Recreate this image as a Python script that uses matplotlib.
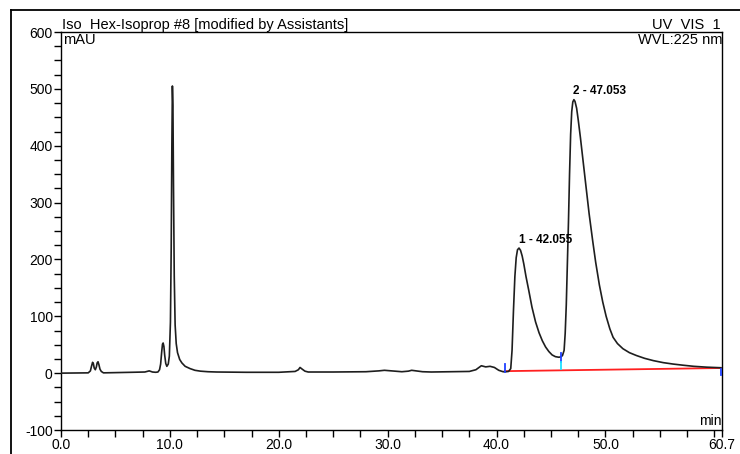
import numpy as np
import matplotlib.pyplot as plt
from matplotlib.lines import Line2D
from matplotlib.ticker import MultipleLocator, FixedLocator

plt.rcParams['font.family'] = ['Liberation Sans', 'DejaVu Sans']
plt.rcParams['axes.unicode_minus'] = False

# chromatogram trace (retention time in min, absorbance in mAU)
time_min = [0.0, 2.5, 2.7, 2.8, 2.9, 2.97, 3.05, 3.15, 3.25, 3.32, 3.4, 3.48,
            3.58, 3.7, 3.9, 5.0, 6.5, 7.7, 8.1, 8.4, 8.7, 8.9, 9.05, 9.15,
            9.25, 9.32, 9.38, 9.45, 9.52, 9.62, 9.72, 9.85, 9.95, 10.05, 10.12,
            10.18, 10.23, 10.28, 10.33, 10.4, 10.48, 10.58, 10.7, 10.9, 11.1,
            11.4, 11.85, 12.3, 12.8, 13.5, 14.3, 17.0, 20.0, 21.5, 21.8, 21.95,
            22.15, 22.4, 22.7, 25.0, 28.0, 29.2, 29.7, 30.3, 31.3, 31.9, 32.2,
            32.6, 33.2, 34.0, 36.0, 37.5, 38.1, 38.6, 39.0, 39.4, 39.8, 40.2,
            40.6, 40.85, 41.1, 41.3, 41.42, 41.55, 41.68, 41.8, 41.92, 42.06,
            42.2, 42.35, 42.5, 42.7, 42.96, 43.25, 43.58, 43.9, 44.2, 44.5,
            44.8, 45.1, 45.4, 45.7, 45.9, 46.05, 46.2, 46.3, 46.4, 46.5, 46.6,
            46.7, 46.8, 46.9, 47.0, 47.1, 47.2, 47.35, 47.5, 47.7, 47.9, 48.2,
            48.5, 48.83, 49.1, 49.44, 49.75, 50.06, 50.4, 50.7, 51.1, 51.6,
            52.2, 52.84, 53.6, 54.4, 55.3, 56.2, 57.1, 58.1, 59.3, 60.6]
signal_mau = [0.0, 0.5, 4, 12, 19, 17, 9, 6, 11, 18, 20, 15,
              7, 3, 0.5, 1, 1.5, 2, 4, 2, 1.5, 2, 6, 16,
              38, 51, 53, 47, 32, 17, 12, 16, 30, 90, 220,
              400, 505, 470, 330, 170, 85, 52, 36, 24, 18,
              12, 8, 5, 3.5, 2.5, 2, 1.5, 1.5, 3, 6, 10,
              7, 3.5, 2, 2, 2.5, 4, 5, 4, 2.5, 3.5, 5,
              4, 2.5, 2, 2.5, 3, 6, 13, 11, 12, 10, 5,
              2.5, 2.5, 3, 8, 40, 110, 170, 203, 217, 220,
              216, 206, 192, 170, 145, 116, 90, 71, 57, 46,
              38, 32, 29, 28, 28.5, 31, 40, 70, 120, 190, 265,
              350, 420, 460, 477, 481, 478, 466, 445, 414, 380, 330,
              280, 232, 195, 155, 125, 100, 78, 63, 52, 43,
              36, 31, 26, 22, 18.5, 16, 14, 12, 10.5, 9.5]

# integration baseline and peak delimiters
baseline_t = [40.75, 60.6]
baseline_v = [3.5, 9.0]
delimiter_t = [40.75, 45.9, 60.6]
delimiter_v = [[2, 16], [20, 36], [-3.5, 8]]
valley_foot_v = [7, 20]

peak_labels = ['1 - 42.055', '2 - 47.053']
peak_rt = [42.055, 47.053]
peak_height = [220, 481]

ytick_vals = [-100, 0, 100, 200, 300, 400, 500, 600]
xtick_vals = [0.0, 10.0, 20.0, 30.0, 40.0, 50.0, 60.7]
xtick_text = ['0.0', '10.0', '20.0', '30.0', '40.0', '50.0', '60.7']

fig = plt.figure(figsize=(7.4, 4.54), dpi=100)
ax = fig.add_axes([61 / 740, 1 - 430 / 454, 661 / 740, 398 / 454])

ax.plot(time_min, signal_mau, color='#1e1e1e', lw=1.2, zorder=3)
ax.plot(baseline_t, baseline_v, color='#ff2020', lw=1.3, zorder=2)
for t, (lo, hi) in zip(delimiter_t, delimiter_v):
    ax.plot([t, t], [lo, hi], color='#2040ff', lw=1.3, zorder=4)
ax.plot([delimiter_t[1]] * 2, valley_foot_v, color='#20e0ff', lw=1.3, zorder=4)

for lab, rt, h in zip(peak_labels, peak_rt, peak_height):
    ax.text(rt, h + 4, lab, fontsize=8.5, fontweight='bold',
            ha='left', va='bottom')

ax.set_xlim(0, 60.7)
ax.set_ylim(-100, 600)
ax.xaxis.set_major_locator(FixedLocator(xtick_vals))
ax.set_xticklabels(xtick_text)
ax.xaxis.set_minor_locator(MultipleLocator(2.5))
ax.set_yticks(ytick_vals)
ax.yaxis.set_minor_locator(MultipleLocator(25))
ax.tick_params(which='both', direction='out', length=5, width=1,
               labelsize=10, pad=1, colors='black')

for sp in ax.spines.values():
    sp.set_linewidth(1.0)

ax.text(0.002, 1.0, 'Iso  Hex-Isoprop #8 [modified by Assistants]',
        transform=ax.transAxes, fontsize=10.5, ha='left', va='bottom')
ax.text(0.998, 1.0, 'UV  VIS  1', transform=ax.transAxes, fontsize=10.5,
        ha='right', va='bottom')
ax.text(0.003, 0.997, 'mAU', transform=ax.transAxes, fontsize=10.5,
        ha='left', va='top')
ax.text(1.0, 0.997, 'WVL:225 nm', transform=ax.transAxes, fontsize=10.5,
        ha='right', va='top')
ax.text(1.0, 0.004, 'min', transform=ax.transAxes, fontsize=10,
        ha='right', va='bottom')

# outer frame of the report page
fig.add_artist(Line2D([11 / 740, 1.0], [1 - 10 / 454, 1 - 10 / 454],
                      transform=fig.transFigure, color='black', lw=1.3))
fig.add_artist(Line2D([11 / 740, 11 / 740], [0.0, 1 - 10 / 454],
                      transform=fig.transFigure, color='black', lw=1.3))

fig.savefig('out.png', dpi=100)
